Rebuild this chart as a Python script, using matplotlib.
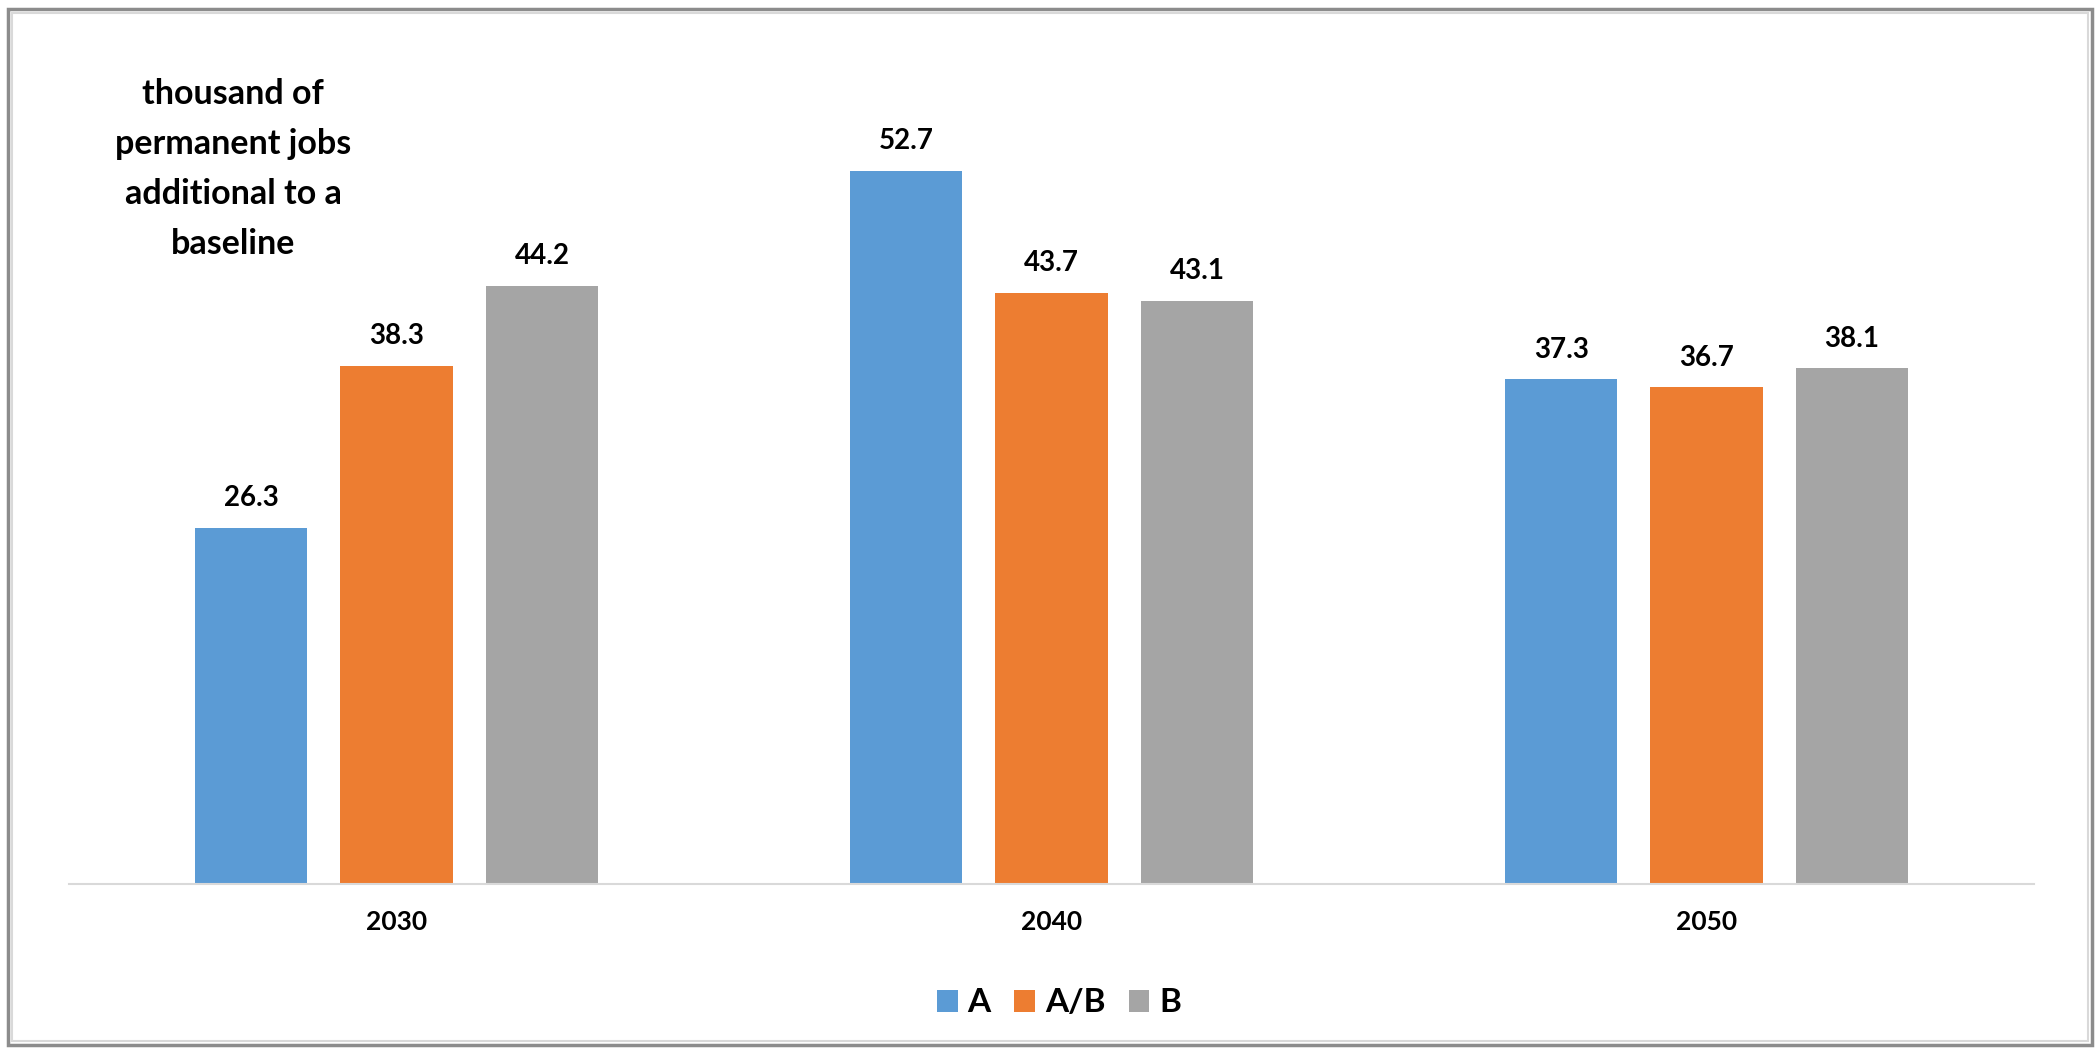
import matplotlib
matplotlib.use("Agg")
import matplotlib.pyplot as plt
import numpy as np
from matplotlib.patches import Patch, Rectangle

categories = ["2030", "2040", "2050"]
series_names = ["A", "A/B", "B"]
values_A = [26.3, 52.7, 37.3]
values_AB = [38.3, 43.7, 36.7]
values_B = [44.2, 43.1, 38.1]
colors = ["#5B9BD5", "#ED7D31", "#A5A5A5"]
title_text = "thousand of\npermanent jobs\nadditional to a\nbaseline"

plt.rcParams['font.family'] = ['Lato', 'DejaVu Sans']

W, H = 2095, 1055
fig = plt.figure(figsize=(W / 100, H / 100), dpi=100)
fig.patch.set_facecolor("white")

ax = fig.add_axes([69 / W, 1 - 884 / H, 1965 / W, (884 - 72) / H])
x = np.arange(len(categories))
step = 0.222
width = 0.171
all_vals = [values_A, values_AB, values_B]
for i, (vals, name, c) in enumerate(zip(all_vals, series_names, colors)):
    bars = ax.bar(x + (i - 1) * step, vals, width=width, color=c, label=name)
    ax.bar_label(bars, labels=[f"{v:.1f}" for v in vals], padding=12,
                 fontsize=20, fontweight="bold", color="black")

ax.set_xlim(-0.5, 2.5)
ax.set_ylim(0, 60)
ax.set_xticks(x)
ax.set_xticklabels(categories, fontsize=19, fontweight="bold")
ax.tick_params(axis="x", length=0, pad=19)
ax.set_yticks([])
for s in ["top", "right", "left"]:
    ax.spines[s].set_visible(False)
ax.spines["bottom"].set_color("#D9D9D9")
ax.spines["bottom"].set_linewidth(1.5)

fig.text(233 / W, 1 - 169 / H, title_text, ha="center", va="center",
         fontsize=24.5, fontweight="bold", linespacing=1.7)

handles = [Patch(facecolor=c, edgecolor="none") for c in colors]
fig.legend(handles, series_names, loc="center", ncol=3,
           bbox_to_anchor=(1059 / W, 1 - 1003 / H), frameon=False,
           prop={"size": 24, "weight": "bold"},
           handlelength=0.62, handleheight=0.62, handletextpad=0.3,
           columnspacing=0.7)

# chart frame
fig.patches.append(Rectangle((8 / W, 10 / H), (2092 - 8) / W, (1046 - 10) / H,
                             transform=fig.transFigure, fill=False,
                             edgecolor="#8C8C8C", linewidth=2.5))
fig.patches.append(Rectangle((12 / W, 14 / H), (2088 - 12) / W, (1042 - 14) / H,
                             transform=fig.transFigure, fill=False,
                             edgecolor="#D9D9D9", linewidth=1.5))

fig.savefig("out.png", dpi=100)
